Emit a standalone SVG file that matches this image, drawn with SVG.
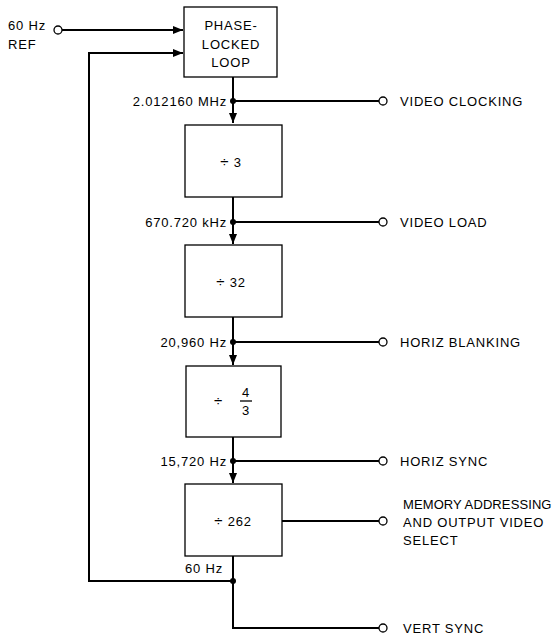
<svg xmlns="http://www.w3.org/2000/svg" width="558" height="636" viewBox="0 0 558 636">
<style>
text{font-family:"Liberation Sans",Arial,sans-serif;font-size:13px;fill:#000;letter-spacing:0.8px}
.box{fill:#fff;stroke:#000;stroke-width:1.3}
.w{fill:none;stroke:#000;stroke-width:2}
.term{fill:#fff;stroke:#000;stroke-width:1.3}
.dot{fill:#000}
.c{text-anchor:middle}
.r{text-anchor:end}
.dv{font-size:15px}
.tight{letter-spacing:0.1px}
</style>
<defs>
<marker id="ah" markerWidth="10" markerHeight="8" refX="10" refY="4" orient="auto" markerUnits="userSpaceOnUse">
<path d="M0,0 L10,4 L0,8 Z" fill="#000"/>
</marker>
</defs>
<rect width="558" height="636" fill="#fff"/>
<g id="connectors">
<path class="w" d="M62,30 H183" marker-end="url(#ah)"/>
<path class="w" d="M233,581 H89 V53 H183" marker-end="url(#ah)"/>
<path class="w" d="M233,77 V123" marker-end="url(#ah)"/>
<path class="w" d="M233,101 H379"/>
<path class="w" d="M233,197 V244" marker-end="url(#ah)"/>
<path class="w" d="M233,222 H379"/>
<path class="w" d="M233,317 V365" marker-end="url(#ah)"/>
<path class="w" d="M233,342 H379"/>
<path class="w" d="M233,437 V483" marker-end="url(#ah)"/>
<path class="w" d="M233,461 H379"/>
<path class="w" d="M282,521 H379"/>
<path class="w" d="M233,556 V628 H379"/>
<circle class="dot" cx="233" cy="101" r="3"/>
<circle class="dot" cx="233" cy="222" r="3"/>
<circle class="dot" cx="233" cy="342" r="3"/>
<circle class="dot" cx="233" cy="461" r="3"/>
<circle class="dot" cx="233" cy="581" r="3"/>
<circle class="term" cx="58" cy="30" r="4"/>
<circle class="term" cx="383" cy="101" r="4"/>
<circle class="term" cx="383" cy="222" r="4"/>
<circle class="term" cx="383" cy="342" r="4"/>
<circle class="term" cx="383" cy="461" r="4"/>
<circle class="term" cx="383" cy="521" r="4"/>
<circle class="term" cx="383" cy="628" r="4"/>
</g>
<g id="ref">
<text x="8" y="30">60 Hz</text>
<text x="8" y="49">REF</text>
</g>
<g id="pll">
<rect class="box" x="184" y="7" width="93" height="70"/>
<text class="c" x="231" y="30">PHASE-</text>
<text class="c" x="231" y="49">LOCKED</text>
<text class="c" x="231" y="67">LOOP</text>
</g>
<g id="div3">
<rect class="box" x="185" y="125" width="97" height="72"/>
<text class="c" x="231" y="167"><tspan class="dv">÷</tspan> 3</text>
</g>
<g id="div32">
<rect class="box" x="185" y="245" width="97" height="72"/>
<text class="c" x="231" y="287"><tspan class="dv">÷</tspan> 32</text>
</g>
<g id="div43">
<rect class="box" x="186" y="366" width="95" height="71"/>
<text x="214" y="406" class="dv">÷</text>
<text class="c" x="246" y="397">4</text>
<line x1="240" y1="401" x2="252" y2="401" stroke="#000" stroke-width="1.3"/>
<text class="c" x="246" y="415">3</text>
</g>
<g id="div262">
<rect class="box" x="185" y="484" width="97" height="72"/>
<text class="c" x="233" y="526"><tspan class="dv">÷</tspan> 262</text>
</g>
<g id="labels">
<text class="r" x="227" y="106">2.012160 MHz</text>
<text class="r" x="227" y="227">670.720 kHz</text>
<text class="r" x="227" y="347">20,960 Hz</text>
<text class="r" x="227" y="466">15,720 Hz</text>
<text class="r" x="223" y="573">60 Hz</text>
<text x="400" y="106">VIDEO CLOCKING</text>
<text x="400" y="227">VIDEO LOAD</text>
<text x="400" y="347">HORIZ BLANKING</text>
<text x="400" y="466">HORIZ SYNC</text>
<text class="tight" x="403" y="509">MEMORY ADDRESSING</text>
<text x="403" y="527">AND OUTPUT VIDEO</text>
<text x="403" y="545">SELECT</text>
<text x="403" y="633">VERT SYNC</text>
</g>
</svg>
